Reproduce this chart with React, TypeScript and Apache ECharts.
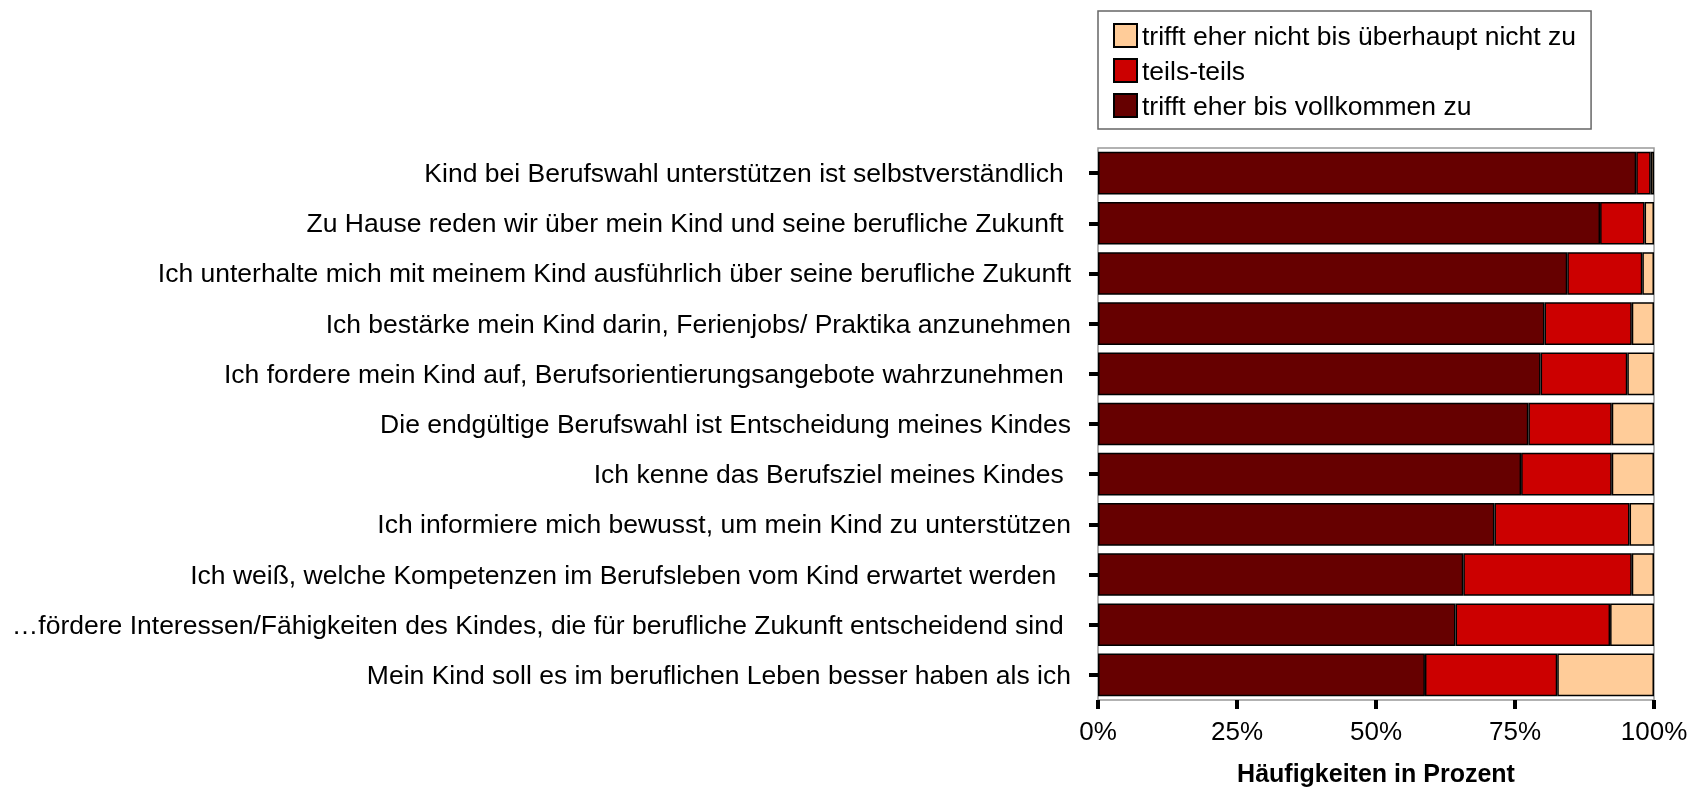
import React, { useEffect, useRef } from "react";
import * as echarts from "echarts";

const categories = [
  "Kind bei Berufswahl unterstützen ist selbstverständlich ",
  "Zu Hause reden wir über mein Kind und seine berufliche Zukunft ",
  "Ich unterhalte mich mit meinem Kind ausführlich über seine berufliche Zukunft",
  "Ich bestärke mein Kind darin, Ferienjobs/ Praktika anzunehmen",
  "Ich fordere mein Kind auf, Berufsorientierungsangebote wahrzunehmen ",
  "Die endgültige Berufswahl ist Entscheidung meines Kindes",
  "Ich kenne das Berufsziel meines Kindes ",
  "Ich informiere mich bewusst, um mein Kind zu unterstützen",
  "Ich weiß, welche Kompetenzen im Berufsleben vom Kind erwartet werden  ",
  "…fördere Interessen/Fähigkeiten des Kindes, die für berufliche Zukunft entscheidend sind ",
  "Mein Kind soll es im beruflichen Leben besser haben als ich",
];

const seriesNames = [
  "trifft eher bis vollkommen zu",
  "teils-teils",
  "trifft eher nicht bis überhaupt nicht zu",
];

const agree = [96.8, 90.3, 84.4, 80.3, 79.6, 77.4, 76.1, 71.3, 65.7, 64.3, 58.8];
const partly = [2.6, 8.0, 13.5, 15.7, 15.6, 15.0, 16.3, 24.3, 30.3, 27.8, 23.8];
const disagree = [0.6, 1.7, 2.1, 4.0, 4.8, 7.6, 7.6, 4.4, 4.0, 7.9, 17.4];

const colors = ["#660000", "#CC0000", "#FFCC99"];
const FONT = "'Liberation Sans', Arial, sans-serif";

export default function App() {
  const ref = useRef<HTMLDivElement>(null);

  useEffect(() => {
    document.body.style.margin = "0";
    if (!ref.current) return;
    const chart = echarts.init(ref.current, undefined, { renderer: "svg" });
    const values = [agree, partly, disagree];
    chart.setOption({
      animation: false,
      textStyle: { fontFamily: FONT },
      legend: {
        orient: "vertical",
        left: 1098,
        top: 11,
        data: [seriesNames[2], seriesNames[1], seriesNames[0]],
        icon: "rect",
        itemWidth: 23,
        itemHeight: 23,
        itemGap: 8,
        padding: [11, 15, 10, 15],
        borderColor: "#666",
        borderWidth: 1.5,
        textStyle: { fontSize: 26.5, color: "#000", fontFamily: FONT },
      },
      grid: {
        left: 1098,
        right: 43,
        top: 148,
        bottom: 84,
        show: true,
        borderColor: "#999",
        borderWidth: 1.5,
      },
      xAxis: {
        type: "value",
        min: 0,
        max: 100,
        interval: 25,
        axisLine: { show: false },
        splitLine: { show: false },
        axisTick: { show: true, length: 9, lineStyle: { color: "#000", width: 4 } },
        axisLabel: {
          formatter: "{value}%",
          fontSize: 26,
          color: "#000",
          margin: 18,
          fontFamily: FONT,
        },
        name: "Häufigkeiten in Prozent",
        nameLocation: "middle",
        nameGap: 60,
        nameTextStyle: { fontSize: 25, fontWeight: "bold", color: "#000", fontFamily: FONT },
      },
      yAxis: {
        type: "category",
        data: categories,
        inverse: true,
        axisLine: { show: false },
        axisTick: {
          show: true,
          alignWithLabel: true,
          length: 9,
          lineStyle: { color: "#000", width: 4 },
        },
        axisLabel: { fontSize: 26.5, color: "#000", margin: 27, fontFamily: FONT },
      },
      series: seriesNames.map((name, i) => ({
        name,
        type: "bar",
        stack: "total",
        barCategoryGap: "15%",
        data: values[i],
        itemStyle: { color: colors[i], borderColor: "#000", borderWidth: 1.5 },
      })),
    });
    return () => chart.dispose();
  }, []);

  return (
    <div
      ref={ref}
      style={{ position: "fixed", left: 0, top: 0, width: 1697, height: 790 }}
    />
  );
}
